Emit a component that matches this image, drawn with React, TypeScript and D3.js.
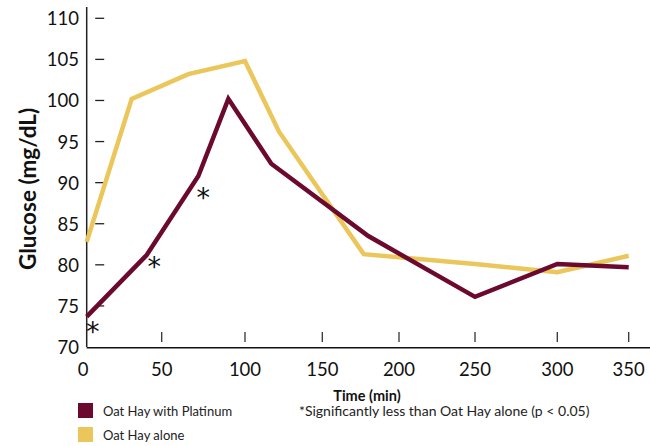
import React, { useEffect, useRef } from 'react';
import * as d3 from 'd3';

const xTicks = [0, 50, 100, 150, 200, 250, 300, 350];
const yTicks = [70, 75, 80, 85, 90, 95, 100, 105, 110];

const platinumTimes = [0, 40, 72, 90, 117, 180, 250, 300, 350];
const platinumValues = [73.7, 81.2, 90.8, 100.2, 92.3, 83.5, 76.1, 80.1, 79.7];

const aloneTimes = [0, 30, 66, 100, 122, 177, 250, 300, 350];
const aloneValues = [82.8, 100.2, 103.2, 104.8, 96.2, 81.3, 80.1, 79.1, 81.1];

// asterisks: significantly lower than oat hay alone
const starTimes = [4, 45, 75];
const starValues = [72.7, 80.6, 89.0];

const seriesNames = ['Oat Hay with Platinum', 'Oat Hay alone'];
const colors = ['#6b0a2e', '#ebc65a'];

const font = 'Lato, "Noto Sans", sans-serif';

export default function App() {
  const ref = useRef<SVGSVGElement>(null);

  useEffect(() => {
    const svg = d3.select(ref.current);
    svg.selectAll('*').remove();

    // tick positions on the original are not perfectly even
    const x = d3
      .scaleLinear()
      .domain(xTicks)
      .range([86.7, 161.7, 245, 322.3, 399, 475, 557.3, 628.7]);
    const y = d3.scaleLinear().domain([70, 110]).range([347, 18.3]);

    const g = svg.append('g');

    // y axis line + dashes
    g.append('line')
      .attr('x1', x(0))
      .attr('x2', x(0))
      .attr('y1', 7)
      .attr('y2', y(70))
      .attr('stroke', '#222')
      .attr('stroke-width', 1.5);

    g.selectAll('.ydash')
      .data(yTicks.filter(d => d > 70))
      .join('line')
      .attr('x1', x(0) + 8.5)
      .attr('x2', x(0) + 17.5)
      .attr('y1', d => y(d))
      .attr('y2', d => y(d))
      .attr('stroke', '#222')
      .attr('stroke-width', 1.3);

    g.selectAll('.ylab')
      .data(yTicks)
      .join('text')
      .attr('x', 79)
      .attr('y', d => y(d) + 7)
      .attr('text-anchor', 'end')
      .attr('font-family', font)
      .attr('font-size', 18.5)
      .attr('fill', '#111')
      .text(d => d);

    // x axis line + ticks
    g.append('line')
      .attr('x1', x(0))
      .attr('x2', 650)
      .attr('y1', y(70) + 0.7)
      .attr('y2', y(70) + 0.7)
      .attr('stroke', '#111')
      .attr('stroke-width', 1.6);

    g.selectAll('.xtick')
      .data(xTicks.filter(d => d > 0))
      .join('line')
      .attr('x1', d => x(d))
      .attr('x2', d => x(d))
      .attr('y1', 332)
      .attr('y2', 342)
      .attr('stroke', '#333')
      .attr('stroke-width', 1.3);

    g.selectAll('.xlab')
      .data(xTicks)
      .join('text')
      .attr('x', d => (d === 0 ? 83 : x(d)))
      .attr('y', 376)
      .attr('text-anchor', 'middle')
      .attr('font-family', font)
      .attr('font-size', 18.5)
      .attr('fill', '#111')
      .text(d => d);

    g.append('text')
      .attr('x', 367)
      .attr('y', 400.5)
      .attr('text-anchor', 'middle')
      .attr('font-family', font)
      .attr('font-weight', 'bold')
      .attr('font-size', 14.5)
      .attr('fill', '#111')
      .text('Time (min)');

    g.append('text')
      .attr('transform', 'translate(36,189) rotate(-90)')
      .attr('text-anchor', 'middle')
      .attr('font-family', font)
      .attr('font-weight', 'bold')
      .attr('font-size', 22.5)
      .attr('fill', '#111')
      .text('Glucose (mg/dL)');

    // lines
    const line = d3
      .line<[number, number]>()
      .x(d => x(d[0]))
      .y(d => y(d[1]));

    const series = [
      d3.zip(platinumTimes, platinumValues),
      d3.zip(aloneTimes, aloneValues),
    ] as [number, number][][];

    // draw yellow first, maroon on top
    [1, 0].forEach(i => {
      g.append('path')
        .attr('d', line(series[i]))
        .attr('fill', 'none')
        .attr('stroke', colors[i])
        .attr('stroke-width', 4.5)
        .attr('stroke-linejoin', 'miter');
    });

    g.selectAll('.star')
      .data(d3.zip(starTimes, starValues))
      .join('text')
      .attr('x', d => x(d[0]))
      .attr('y', d => y(d[1]) + 16)
      .attr('text-anchor', 'middle')
      .attr('font-family', '"DejaVu Sans", sans-serif')
      .attr('font-size', 27)
      .attr('fill', '#111')
      .text('*');

    // legend
    const legend = g
      .selectAll('.leg')
      .data(seriesNames)
      .join('g')
      .attr('transform', (d, i) => `translate(78,${403 + i * 24})`);

    legend
      .append('rect')
      .attr('width', 15)
      .attr('height', 15)
      .attr('fill', (d, i) => colors[i]);

    legend
      .append('text')
      .attr('x', 25)
      .attr('y', 13)
      .attr('font-family', font)
      .attr('font-size', 13)
      .attr('fill', '#222')
      .text(d => d);

    g.append('text')
      .attr('x', 299)
      .attr('y', 416)
      .attr('font-family', font)
      .attr('font-size', 14)
      .attr('fill', '#222')
      .text('*Significantly less than Oat Hay alone (p < 0.05)');
  }, []);

  return (
    <svg
      ref={ref}
      width={650}
      height={446}
      style={{ position: 'absolute', left: 0, top: 0, background: '#fff' }}
    />
  );
}
